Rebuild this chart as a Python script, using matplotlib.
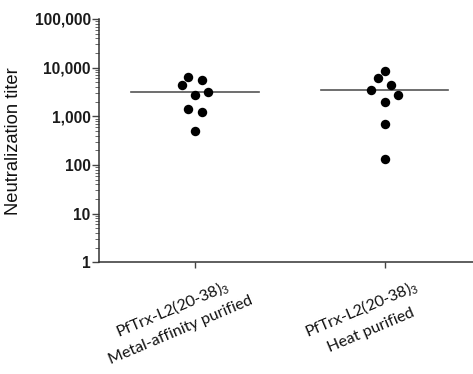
import numpy as np
import matplotlib
matplotlib.use("Agg")
from matplotlib import pyplot as plt
from matplotlib import transforms

plt.rcParams['font.family'] = ['Liberation Sans', 'DejaVu Sans']
plt.rcParams['mathtext.fontset'] = 'custom'
plt.rcParams['mathtext.rm'] = 'Lato'
plt.rcParams['mathtext.it'] = 'Lato:italic'

# neutralization titers per construct
groups = ['PfTrx-L2(20-38)$_3$\nMetal-affinity purified',
          'PfTrx-L2(20-38)$_3$\nHeat purified']
titer_metal = [6400, 5550, 4400, 3200, 2700, 1400, 1220, 510]
titer_heat = [8600, 6000, 4450, 3500, 2730, 1960, 690, 132]
ytick_vals = [1, 10, 100, 1000, 10000, 100000]
ytick_labels = ['1', '10', '100', '1,000', '10,000', '100,000']

# horizontal spread of the dots (in dot columns) so they don't overlap
spread_metal = [-1, 1, -2, 2, 0, -1, 1, 0]
spread_heat = [0, -1, 1, -2, 2, 0, 0, 0]
col_w = 0.035

fig = plt.figure(figsize=(4.73, 3.74), dpi=100)
ax = fig.add_axes([0.2093, 0.2987, 0.7907, 0.6505])

for pos, vals, spread in [(1, titer_metal, spread_metal), (2, titer_heat, spread_heat)]:
    xs = pos + np.array(spread) * col_w
    ax.plot(xs, vals, 'o', color='black', markersize=6.8, markeredgewidth=0, zorder=3)
    m = np.mean(vals)
    ax.plot([pos - 0.336, pos + 0.336], [m, m], color='#555555', lw=1.2, zorder=2)

ax.set_yscale('log')
ax.set_ylim(1, 100000)
ax.set_xlim(0.4934, 2.467)

ax.set_yticks(ytick_vals)
ax.set_yticklabels(ytick_labels, fontsize=11.2, fontweight='bold', color='#1a1a1a')
ax.yaxis.set_minor_locator(matplotlib.ticker.LogLocator(base=10, subs=np.arange(2, 10)))
ax.yaxis.set_minor_formatter(matplotlib.ticker.NullFormatter())
ax.tick_params(axis='y', which='major', length=5, width=1, color='#444444', pad=1)
ax.tick_params(axis='y', which='minor', length=3, width=0.7, color='#666666')

ax.set_xticks([1, 2])
ax.set_xticklabels(['', ''])
ax.tick_params(axis='x', length=4, width=1, color='#444444')

for side in ['top', 'right']:
    ax.spines[side].set_visible(False)
for side in ['left', 'bottom']:
    ax.spines[side].set_linewidth(1.1)
    ax.spines[side].set_color('#333333')

ax.set_ylabel('Neutralization titer', fontsize=13.2, color='#111111')
ax.yaxis.set_label_coords(-0.205, 0.5)

# rotated two-line category labels
trans = transforms.blended_transform_factory(ax.transData, ax.transAxes)
for pos, lab in zip([1, 2], groups):
    ax.text(pos - 0.10, -0.23, lab, transform=trans, rotation=23,
            rotation_mode='anchor', ha='center', va='center', multialignment='center',
            fontsize=11.5, family='Lato', color='#111111', linespacing=1.6)

fig.savefig('out.png', dpi=100)
